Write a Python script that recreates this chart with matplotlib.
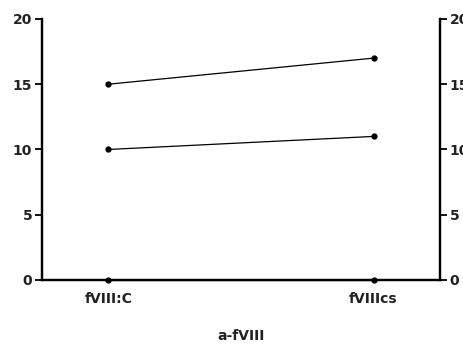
import matplotlib
matplotlib.use("Agg")
import matplotlib.pyplot as plt

categories = ["fVIII:C", "fVIIIcs"]
series_a = [15, 17]
series_b = [10, 11]
series_c = [0, 0]
yticks = [0, 5, 10, 15, 20]

plt.rcParams['font.family'] = ['DejaVu Sans']
plt.rcParams['font.weight'] = 'bold'

fig = plt.figure(figsize=(4.63, 3.51), dpi=100)
ax = fig.add_axes([0.0907, 0.2023, 0.8593, 0.7437])

x = list(range(len(categories)))
for vals in (series_a, series_b, series_c):
    ax.plot(x, vals, color="black", lw=0.9, marker="o", ms=3.5, clip_on=False, zorder=3)

ax.set_xlim(-0.25, 1.25)
ax.set_ylim(0, 20)
ax.set_yticks(yticks)
ax.set_xticks(x)
ax.set_xticklabels(categories, fontsize=10, fontweight='bold', color='#222222')
ax.set_xlabel("a-fVIII", fontsize=10, fontweight='bold', labelpad=16, color='#222222')
ax.tick_params(axis='x', length=0, pad=9)
ax.tick_params(axis='y', length=5, width=1.3, labelsize=10, pad=2, labelcolor='#222222')
for lbl in ax.get_yticklabels():
    lbl.set_fontweight('bold')

ax2 = ax.twinx()
ax2.set_ylim(0, 20)
ax2.set_yticks(yticks)
ax2.tick_params(axis='y', length=5, width=1.3, labelsize=10, pad=2, labelcolor='#222222')
for lbl in ax2.get_yticklabels():
    lbl.set_fontweight('bold')

for a in (ax, ax2):
    a.spines['top'].set_visible(False)
    for s in ('left', 'right', 'bottom'):
        a.spines[s].set_linewidth(1.6)

fig.savefig("out.png", dpi=100)
